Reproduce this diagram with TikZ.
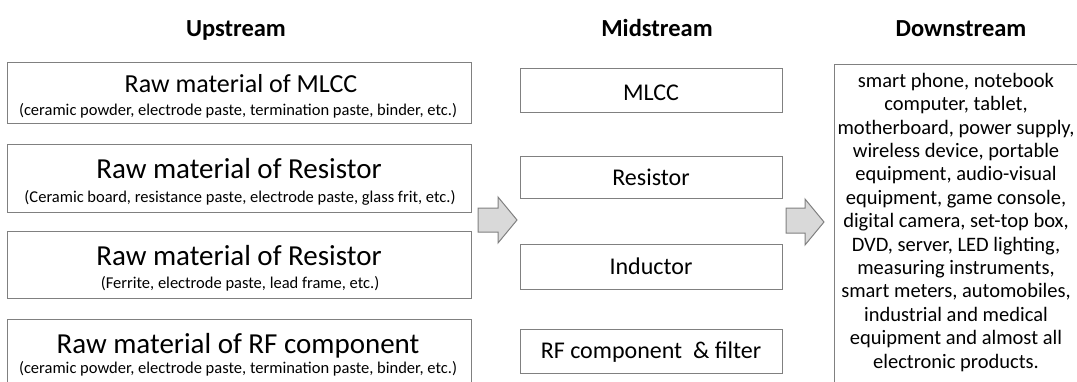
\documentclass[tikz,border=0pt]{standalone}
\usepackage{fontspec}
\setmainfont{Carlito}
\begin{document}
\begin{tikzpicture}[x=1pt,y=-1pt,
  boxline/.style={draw=black!50,line width=1pt},
  hdr/.style={anchor=base,font=\fontsize{24.5}{28}\selectfont\bfseries},
  ttl/.style={anchor=base,font=\fontsize{29}{32}\selectfont},
  ttlsmall/.style={anchor=base,font=\fontsize{26}{30}\selectfont},
  sub/.style={anchor=base,font=\fontsize{16.5}{19}\selectfont},
  midtxt/.style={anchor=base,font=\fontsize{24}{28}\selectfont},
  bigarrow/.style={draw=black!50,fill=black!15,line width=1pt,line join=miter}
]
\useasboundingbox (0,0) rectangle (1077,381);
\clip (0,0) rectangle (1077,381);
% headers
\node[hdr] (hup) at (236,36) {Upstream};
\node[hdr] (hmid) at (657,36) {Midstream};
\node[hdr] (hdown) at (961,36) {Downstream};
% upstream boxes
\draw[boxline] (7,62) rectangle (471,123);
\draw[boxline] (7,144) rectangle (471,212);
\draw[boxline] (7,231) rectangle (471,298);
\draw[boxline] (7,319) rectangle (471,400);
\node[ttlsmall] (u1t) at (241,92) {Raw material of MLCC};
\node[sub] (u1s) at (238,115) {(ceramic powder, electrode paste, termination paste, binder, etc.)};
\node[ttl] (u2t) at (239,178) {Raw material of Resistor};
\node[sub] (u2s) at (240,202) {(Ceramic board, resistance paste, electrode paste, glass frit, etc.)};
\node[ttl] (u3t) at (239,265) {Raw material of Resistor};
\node[sub] (u3s) at (240,288) {(Ferrite, electrode paste, lead frame, etc.)};
\node[ttl] (u4t) at (238,353) {Raw material of RF component};
\node[sub] (u4s) at (238,373) {(ceramic powder, electrode paste, termination paste, binder, etc.)};
% midstream boxes
\node[boxline,minimum width=262pt,minimum height=44pt] (m1) at (651,90) {};
\node[boxline,minimum width=262pt,minimum height=42pt] (m2) at (651,177) {};
\node[boxline,minimum width=262pt,minimum height=45pt] (m3) at (651,266.5) {};
\node[boxline,minimum width=262pt,minimum height=44pt] (m4) at (651,351) {};
\node[midtxt] (m1t) at (651,100) {MLCC};
\node[midtxt] (m2t) at (651,185) {Resistor};
\node[midtxt] (m3t) at (651,274) {Inductor};
\node[midtxt] (m4t) at (651,358) {RF component\ \ \& filter};
% arrows
\draw[bigarrow] (478,208) -- (498,208) -- (498,197) -- (517,220) -- (498,243) -- (498,232) -- (478,232) -- cycle;
\draw[bigarrow] (786,208) -- (805,208) -- (805,199) -- (824,222) -- (805,245) -- (805,233) -- (786,233) -- cycle;
% downstream
\draw[boxline] (834,64) rectangle (1100,400);
\node[font=\fontsize{20.5}{23.4}\selectfont,align=center,anchor=base] (dtext) at (956,368) {smart phone, notebook\\computer, tablet,\\motherboard, power supply,\\wireless device, portable\\equipment, audio-visual\\equipment, game console,\\digital camera, set-top box,\\DVD, server, LED lighting,\\measuring instruments,\\smart meters, automobiles,\\industrial and medical\\equipment and almost all\\electronic products.};
\end{tikzpicture}
\end{document}
